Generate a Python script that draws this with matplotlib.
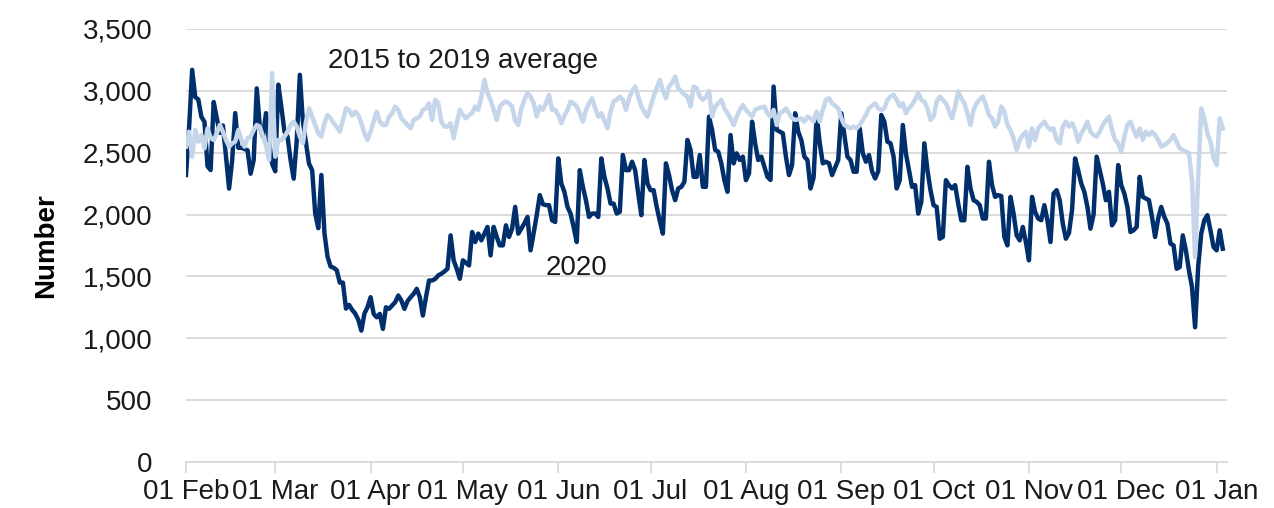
import matplotlib
matplotlib.use("Agg")
import matplotlib.pyplot as plt
import matplotlib.dates as mdates
from matplotlib.ticker import FuncFormatter
import pandas as pd

# daily values, 1 Feb 2020 to 3 Jan 2021
y2020_feb = [2320, 2700, 3170, 2950, 2930, 2790, 2750, 2390, 2360, 2910, 2780, 2660, 2720, 2470, 2210,
             2440, 2820, 2540, 2540, 2530, 2520, 2330, 2440, 3020, 2710, 2630, 2820, 2590, 2410]
y2020_mar = [2350, 3050, 2870, 2670, 2630, 2440, 2290, 2600, 3130, 2750, 2580, 2410, 2360, 2010, 1890,
             2320, 1850, 1660, 1580, 1570, 1550, 1450, 1450, 1240, 1270, 1230, 1200, 1150, 1062, 1200, 1251]
y2020_apr = [1332, 1197, 1170, 1197, 1076, 1251, 1238, 1265, 1292, 1346, 1305, 1238, 1300, 1332, 1359,
             1400, 1332, 1184, 1332, 1467, 1467, 1480, 1508, 1522, 1540, 1562, 1832, 1630, 1562, 1481]
y2020_may = [1630, 1610, 1589, 1859, 1778, 1846, 1792, 1846, 1900, 1670, 1900, 1820, 1751, 1751, 1913,
             1819, 1886, 2062, 1846, 1886, 1930, 1981, 1711, 1850, 1995, 2157, 2084, 2076, 2076, 1954, 1940]
y2020_jun = [2454, 2251, 2184, 2062, 2008, 1900, 1778, 2359, 2224, 2116, 1981, 2008, 2008, 1981, 2454,
             2305, 2211, 2089, 2089, 2008, 2022, 2481, 2359, 2359, 2427, 2359, 2170, 1995, 2441, 2251]
y2020_jul = [2197, 2197, 2062, 1950, 1846, 2414, 2319, 2197, 2116, 2211, 2224, 2265, 2603, 2522, 2305,
             2305, 2481, 2224, 2224, 2792, 2684, 2522, 2508, 2414, 2278, 2184, 2643, 2414, 2495, 2441, 2468]
y2020_aug = [2278, 2332, 2751, 2576, 2441, 2468, 2386, 2305, 2280, 3035, 2684, 2670, 2657, 2468, 2319,
             2400, 2819, 2670, 2603, 2468, 2441, 2211, 2300, 2805, 2576, 2414, 2427, 2414, 2319, 2380, 2441]
y2020_sep = [2819, 2643, 2468, 2441, 2346, 2346, 2697, 2495, 2427, 2481, 2350, 2292, 2350, 2805, 2751,
             2589, 2576, 2468, 2211, 2278, 2724, 2495, 2359, 2224, 2238, 2008, 2100, 2576, 2359, 2197]
y2020_oct = [2076, 2062, 1805, 1819, 2278, 2238, 2211, 2238, 2089, 1954, 1954, 2386, 2211, 2116, 2103,
             2076, 1968, 1968, 2427, 2238, 2143, 2157, 2150, 1819, 1751, 2143, 2008, 1832, 1792, 1900, 1778]
y2020_nov = [1630, 2143, 2022, 1968, 1954, 2076, 1954, 1778, 2170, 2197, 2116, 1927, 1805, 1850, 2035,
             2454, 2359, 2251, 2184, 2062, 1886, 2000, 2468, 2359, 2251, 2116, 2184, 1913, 1954, 2400]
y2020_dec = [2238, 2170, 2062, 1859, 1873, 1900, 2305, 2143, 2130, 2116, 1981, 1819, 1968, 2062, 1981,
             1927, 1765, 1751, 1562, 1576, 1832, 1711, 1549, 1414, 1089, 1576, 1846, 1954, 1995, 1873, 1738]
y2020_jan = [1711, 1873, 1724]

avg_feb = [2549, 2670, 2468, 2684, 2589, 2643, 2535, 2697, 2620, 2603, 2657, 2724, 2670, 2603, 2549,
           2576, 2590, 2684, 2603, 2549, 2616, 2630, 2684, 2724, 2711, 2630, 2560, 2441, 3143]
avg_mar = [2468, 2603, 2600, 2630, 2670, 2724, 2751, 2711, 2630, 2576, 2751, 2859, 2792, 2724, 2657,
           2630, 2738, 2805, 2778, 2738, 2711, 2670, 2765, 2859, 2846, 2800, 2832, 2805, 2738, 2657, 2603]
avg_apr = [2670, 2751, 2832, 2751, 2724, 2724, 2790, 2819, 2873, 2846, 2778, 2751, 2724, 2697, 2765,
           2778, 2792, 2846, 2859, 2900, 2765, 2927, 2900, 2751, 2711, 2711, 2738, 2616, 2738, 2846]
avg_may = [2805, 2778, 2805, 2819, 2873, 2846, 2950, 3089, 2981, 2927, 2846, 2765, 2873, 2900, 2914,
           2900, 2873, 2760, 2724, 2859, 2927, 2981, 2955, 2900, 2792, 2873, 2846, 2900, 2968, 2846, 2846]
avg_jun = [2805, 2738, 2800, 2846, 2914, 2900, 2873, 2819, 2751, 2846, 2900, 2940, 2859, 2792, 2819,
           2760, 2697, 2832, 2914, 2927, 2954, 2927, 2846, 2940, 2995, 3035, 2954, 2873, 2830, 2792]
avg_jul = [2873, 2954, 3022, 3089, 3008, 2940, 3035, 3062, 3116, 3022, 2995, 2970, 2954, 2873, 3035,
           3022, 2954, 2927, 2950, 3000, 2792, 2873, 2900, 2927, 2859, 2819, 2778, 2724, 2792, 2846, 2886]
avg_aug = [2846, 2819, 2792, 2846, 2859, 2866, 2873, 2819, 2792, 2846, 2724, 2819, 2832, 2859, 2819,
           2778, 2765, 2770, 2778, 2751, 2792, 2778, 2751, 2832, 2751, 2846, 2927, 2940, 2900, 2880, 2859]
avg_sep = [2778, 2724, 2711, 2697, 2711, 2697, 2724, 2765, 2805, 2859, 2880, 2900, 2859, 2846, 2859,
           2927, 2954, 2968, 2927, 2873, 2900, 2819, 2859, 2886, 2930, 2981, 2927, 2914, 2859, 2765]
avg_oct = [2792, 2914, 2954, 2927, 2900, 2840, 2778, 2873, 2995, 2940, 2900, 2819, 2724, 2846, 2900,
           2930, 2954, 2886, 2805, 2778, 2711, 2751, 2873, 2832, 2724, 2680, 2616, 2522, 2603, 2643, 2670]
avg_nov = [2549, 2697, 2603, 2697, 2724, 2751, 2711, 2684, 2697, 2603, 2576, 2711, 2751, 2711, 2738,
           2684, 2589, 2657, 2697, 2751, 2670, 2643, 2630, 2670, 2724, 2760, 2792, 2684, 2603, 2576]
avg_dec = [2508, 2630, 2724, 2751, 2684, 2630, 2697, 2603, 2670, 2643, 2670, 2643, 2603, 2549, 2562,
           2580, 2603, 2643, 2589, 2535, 2522, 2508, 2495, 2278, 1657, 2305, 2859, 2778, 2657, 2589, 2454]
avg_jan = [2400, 2778, 2697]

y2020 = (y2020_feb + y2020_mar + y2020_apr + y2020_may + y2020_jun + y2020_jul + y2020_aug
         + y2020_sep + y2020_oct + y2020_nov + y2020_dec + y2020_jan)
avg = (avg_feb + avg_mar + avg_apr + avg_may + avg_jun + avg_jul + avg_aug
       + avg_sep + avg_oct + avg_nov + avg_dec + avg_jan)
dates = pd.date_range("2020-02-01", periods=len(y2020), freq="D")

dark = "#002f6c"
light = "#c5d5ea"
grid = "#d9d9d9"

plt.rcParams["font.family"] = ["Liberation Sans", "DejaVu Sans"]

fig = plt.figure(figsize=(12.74, 5.08), dpi=100)
ax = fig.add_axes([186 / 1274, 46 / 508, 1041 / 1274, 433 / 508])

ax.plot(dates, y2020, color=dark, lw=3.2, zorder=3, solid_joinstyle="round")
ax.plot(dates, avg, color=light, lw=3.2, zorder=4, solid_joinstyle="round")

ax.set_ylim(0, 3500)
ax.set_yticks(range(0, 3501, 500))
ax.yaxis.set_major_formatter(FuncFormatter(lambda v, p: f"{int(v):,}"))
ax.set_xlim(pd.Timestamp("2020-02-01"), pd.Timestamp("2021-01-04 09:00"))
ax.xaxis.set_major_locator(mdates.MonthLocator(bymonthday=1))
ax.xaxis.set_major_formatter(mdates.DateFormatter("%d %b"))

ax.grid(axis="y", color=grid, lw=1.3, zorder=0)
for s in ["top", "right", "left"]:
    ax.spines[s].set_visible(False)
ax.spines["bottom"].set_color(grid)
ax.spines["bottom"].set_linewidth(1.3)
ax.tick_params(axis="x", colors=grid, length=8, width=1.3, labelcolor="#1a1a1a",
               labelsize=20, pad=4)
ax.tick_params(axis="y", length=0, labelsize=20, labelcolor="#1a1a1a", pad=24)

ax.set_ylabel("Number", fontsize=20, fontweight="bold", labelpad=17)

ax.text(pd.Timestamp("2020-03-18"), 3240, "2015 to 2019 average", fontsize=20,
        ha="left", va="center", color="#1a1a1a")
ax.text(pd.Timestamp("2020-05-28"), 1570, "2020", fontsize=20, ha="left", va="center",
        color="#1a1a1a")

fig.savefig("out.png", dpi=100)
